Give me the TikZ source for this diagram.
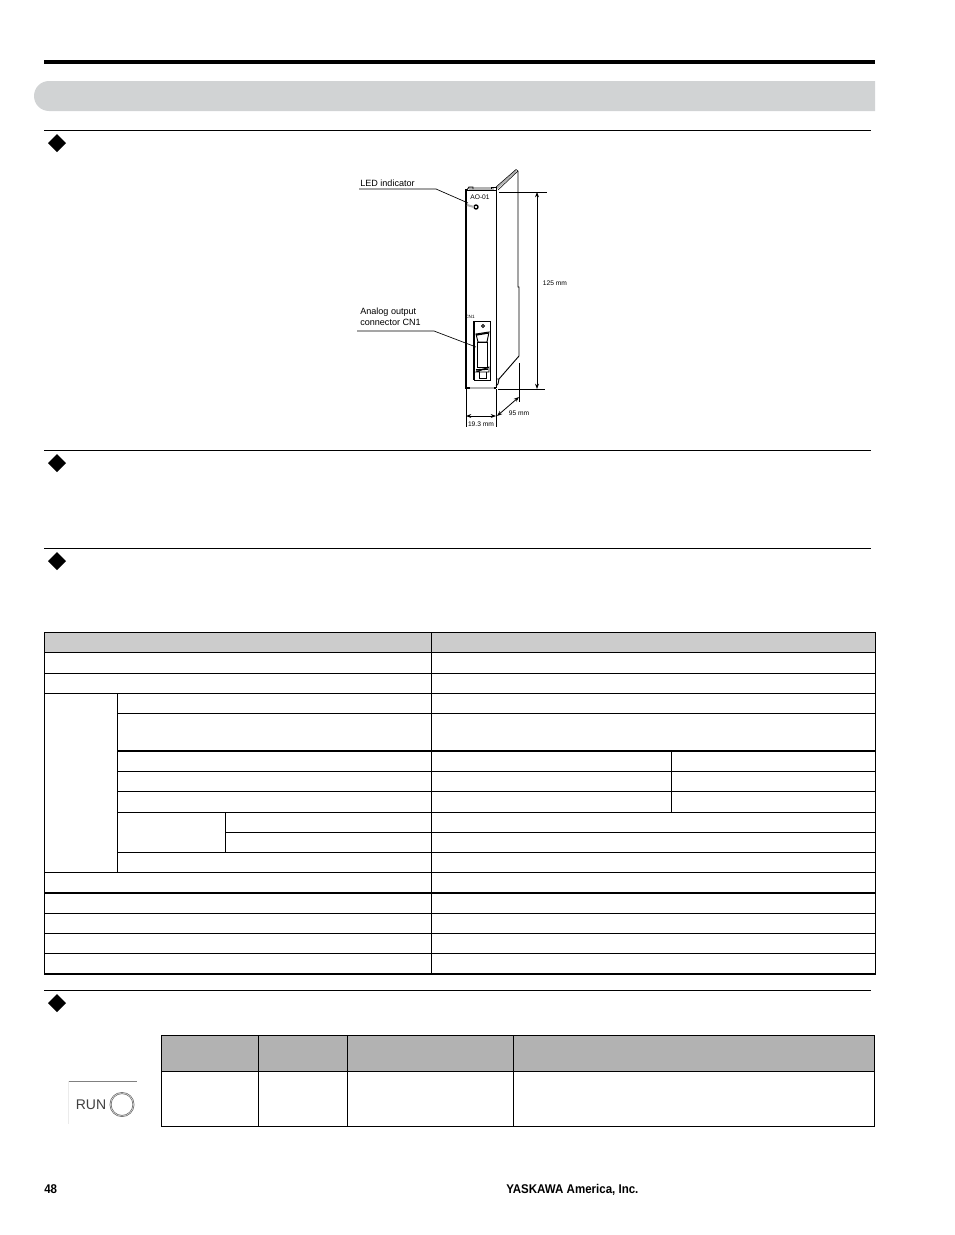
\documentclass[tikz,border=0pt]{standalone}
\usepackage{fontspec}
\setmainfont{Liberation Sans}
\newfontfamily\footfont[FakeStretch=0.91]{Liberation Sans}
\usetikzlibrary{arrows.meta}
\definecolor{bandgray}{RGB}{209,211,212}
\definecolor{headgray}{RGB}{204,204,204}
\definecolor{ledgray}{RGB}{178,178,178}
\tikzset{
  rowline/.style={line width=0.75pt},
  thickrow/.style={line width=1.5pt},
  rulegray/.style={line width=0.75pt},
  part/.style={line width=0.7pt},
  leader/.style={line width=0.5pt},
  dimline/.style={line width=0.6pt,{Stealth[length=4pt,width=3pt]}-{Stealth[length=4pt,width=3pt]}},
  smalltext/.style={font=\fontsize{6.8}{8}\selectfont,inner sep=0pt,align=left},
  tinytext/.style={font=\fontsize{5}{6}\selectfont,inner sep=0pt},
  foottext/.style={font=\footfont\bfseries\fontsize{9.5}{11}\selectfont,inner sep=0pt,anchor=west}
}
\newcommand{\diamondmark}[1]{\fill (48,#1) -- (57,#1-9) -- (66,#1) -- (57,#1+9) -- cycle;}
\begin{document}
\begin{tikzpicture}[x=0.75pt,y=-0.75pt]
\useasboundingbox (0,0) rectangle (954,1235);

%%% Top of the page
\fill (44,60) rectangle (875,64);
\fill[bandgray] (875,81) -- (49,81) arc (270:90:15) -- (875,111) -- cycle;

%%% Section rules and markers
\foreach \ruley/\marky in {130.5/143,450.5/463,548.5/561,990.5/1003}{
  \draw[rulegray] (44,\ruley) -- (871,\ruley);
  \diamondmark{\marky}
}

%%% Option card
\draw[line width=1.2pt] (466,189) -- (466,388) -- (496,388);
\draw[ledgray,line width=1pt] (470,388) -- (494,388);
\draw[part] (466,190) -- (496,190) -- (496,388);
\draw[ledgray,line width=1.6pt] (497,188) -- (516,171);
\draw[line width=0.4pt] (496,187) -- (516,169.5) -- (518,171) -- (498,190);
\draw[part] (518,171) -- (518,287) -- (519,287) -- (519,356) -- (499,379);
\draw[part] (497,379) -- (499,379) -- (498,384) -- (496,386);
\fill[ledgray] (469,190) rectangle (494,187);
\draw[part] (467,190) -- (469,187) -- (473,187) -- (473,189);
\draw[part] (491,189) -- (491,187) -- (496,187) -- (496,190);
\node[tinytext] (cardname) at (480,197) {AO-01};
\node[tinytext,font=\fontsize{3.5}{4}\selectfont] (cnname) at (470,317) {CN1};
\draw[line width=1pt] (476,207) circle (2);
\draw[ledgray,line width=1.5pt] (467,205) -- (474,207);

%%% Connector CN1
\draw[part] (474,321) rectangle (490,380);
\draw[line width=1.1pt] (474,321) -- (474,380);
\draw[part] (483,326) circle (1.5);
\draw[part] (477,342) rectangle (487,367);
\draw[part] (476,334) -- (489,332) -- (487,342) -- (478,342) -- cycle;
\draw[line width=1.1pt] (476,335) -- (488,333);
\draw[part] (476,372) -- (489,367) -- (489,372) -- cycle;
\draw[line width=1.1pt] (476,370) -- (488,369);
\draw[part] (479,372) -- (479,378) -- (486,378) -- (486,372);

%%% Leader lines
\node[smalltext,anchor=south west] (ledtext) at (360,187) {LED indicator};
\coordinate (ledstart) at (359,189);
\coordinate (ledknee) at (436,189);
\coordinate (ledend) at (468,203);
\draw[leader] (ledstart) -- (ledknee) -- (ledend);
\node[smalltext,anchor=north west] (cntext) at (360,307.5) {Analog output\\connector CN1};
\coordinate (cnstart) at (357,331);
\coordinate (cnknee) at (434,331);
\coordinate (cnend) at (476,347);
\draw[leader] (cnstart) -- (cnknee) -- (cnend);

%%% Dimensions
\draw[part] (499,192) -- (547,192);
\draw[part] (498,389) -- (545,389);
\draw[dimline] (537,192) -- (537,389);
\node[tinytext] (heightlabel) at (555,283) {125 mm};
\draw[part] (466,389) -- (466,427);
\draw[part] (496,389) -- (496,427);
\draw[dimline] (466,416) -- (496,416);
\node[tinytext] (widthlabel) at (481,424) {19.3 mm};
\draw[part] (519,363) -- (519,402);
\draw[dimline] (497,416) -- (519,397);
\node[tinytext] (depthlabel) at (519,413) {95 mm};

%%% Specification table
\fill[headgray] (44,632) rectangle (875,652);
\foreach \rowy in {652,673,693,872,913,933,953}{
  \draw[rowline] (44,\rowy) -- (875,\rowy);
}
\foreach \rowy in {713,771,791,812,852}{
  \draw[rowline] (117,\rowy) -- (875,\rowy);
}
\draw[rowline] (225,832) -- (875,832);
\draw[thickrow] (117,750.5) -- (875,750.5);
\draw[thickrow] (44,893) -- (875,893);
\draw[rowline] (875.5,632) -- (44.5,632) -- (44.5,973.5);
\draw[rowline] (875.5,632) -- (875.5,973.5);
\draw[thickrow] (44,973.5) -- (876,973.5);
\draw[rowline] (431,632) -- (431,973);
\draw[rowline] (117,693) -- (117,872);
\draw[rowline] (225,812) -- (225,852);
\draw[rowline] (671,750) -- (671,812);

%%% Indicator table
\fill[ledgray] (161,1035) rectangle (874,1071);
\draw[rowline] (161,1035.5) rectangle (874,1126.5);
\draw[rowline] (161,1071) -- (874,1071);
\foreach \colx in {258,347,513}{
  \draw[rowline] (\colx,1035) -- (\colx,1126);
}

%%% RUN indicator
\draw[line width=0.5pt,gray] (69,1081) -- (137,1081);
\draw[line width=0.3pt,black!8] (68.5,1081) -- (68.5,1124);
\node[font=\fontsize{10.5}{12}\selectfont,inner sep=0pt,text=black!75] (runlabel) at (91,1105) {RUN};
\draw[line width=1.4pt,black!60] (122,1104.5) circle (11.5);
\draw[line width=0.3pt,white] (122,1104.5) circle (11.5);

%%% Footer
\node[foottext] (pagenum) at (44,1189.5) {48};
\node[foottext] (company) at (506,1189.5) {YASKAWA America, Inc.};
\end{tikzpicture}
\end{document}
